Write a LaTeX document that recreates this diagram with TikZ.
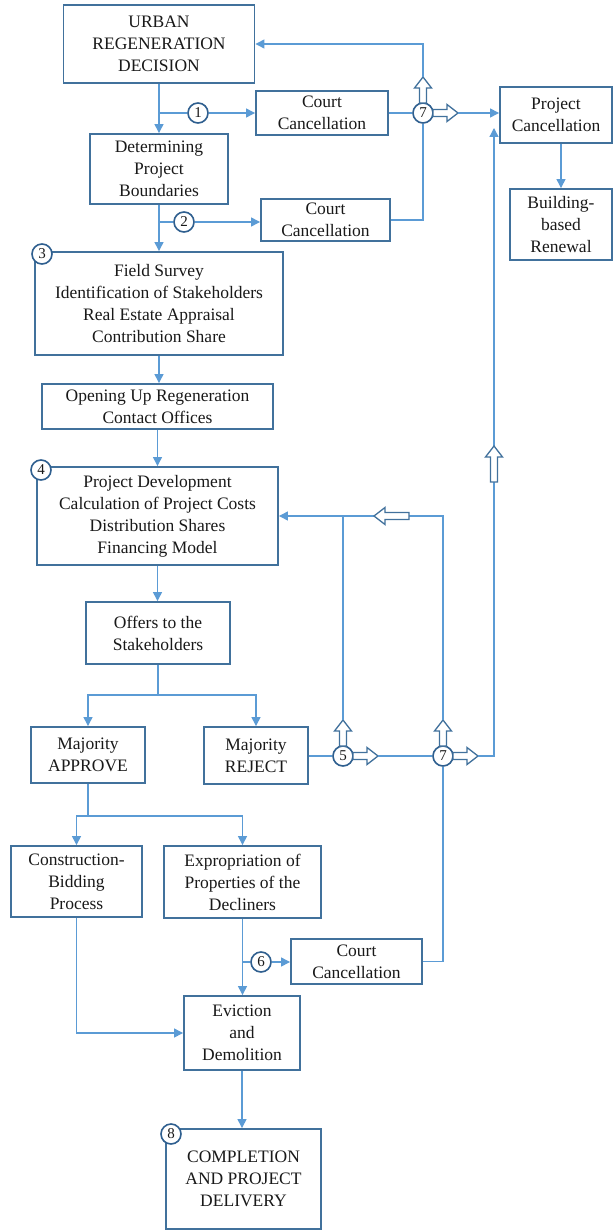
\documentclass[tikz,border=0pt]{standalone}
\usepackage{fontspec}
\setmainfont{Liberation Serif}
\newfontfamily\diagfont{Liberation Serif}
\usetikzlibrary{arrows.meta}
\definecolor{boxblue}{HTML}{41719C}
\definecolor{ringblue}{HTML}{2F5F8F}
\definecolor{lineblue}{HTML}{5B9BD5}
% outlined block arrow: name of tip, base x, base y, direction, length
\newcommand{\hollowarrow}[5]{%
  \begin{scope}[shift={(#2,#3)}, rotate=#4]
    \draw[harrow] (0,-3.5) -- ({#5-11},-3.5) -- ({#5-11},-8.5) -- (#5,0)
      -- ({#5-11},8.5) -- ({#5-11},3.5) -- (0,3.5) -- cycle;
    \coordinate (#1) at (#5,0);
  \end{scope}}
\begin{document}
\begin{tikzpicture}[x=1pt,y=-1pt,
  box/.style={draw=boxblue, line width=1.9pt, align=center, inner sep=0pt,
    font=\diagfont\fontsize{17.5}{22}\selectfont, text=black!90},
  conn/.style={draw=lineblue, line width=1.3pt},
  tip/.style={conn, -{Triangle[length=9pt,width=9pt]}},
  num/.style={circle, draw=ringblue, fill=white, line width=1.6pt,
    minimum size=20pt, inner sep=0pt, font=\diagfont\fontsize{15}{15}\selectfont, text=black!90},
  harrow/.style={draw=boxblue, fill=white, line width=1.3pt, line join=miter},
]
\useasboundingbox[fill=white] (0,0) rectangle (614,1230);

% ---------- boxes ----------
\node[box, minimum width=191pt, minimum height=78pt] (A) at (159,44) {URBAN\\REGENERATION\\DECISION};
\node[box, minimum width=132pt, minimum height=44pt] (CC1) at (322,113) {Court\\Cancellation};
\node[box, minimum width=138pt, minimum height=70pt] (B) at (159,169) {Determining\\Project\\Boundaries};
\node[box, minimum width=129pt, minimum height=42pt] (CC2) at (325.5,220) {Court\\Cancellation};
\node[box, minimum width=112pt, minimum height=56pt] (PC) at (556,115) {Project\\Cancellation};
\node[box, minimum width=102pt, minimum height=71pt] (BBR) at (561,224.5) {Building-\\based\\Renewal};
\node[box, minimum width=248pt, minimum height=103pt] (F3) at (159,303.5) {Field Survey\\Identification of Stakeholders\\Real Estate Appraisal\\Contribution Share};
\node[box, minimum width=231pt, minimum height=45pt] (OP) at (157.5,406.5) {Opening Up Regeneration\\Contact Offices};
\node[box, minimum width=241pt, minimum height=98pt] (D4) at (157.5,516) {Project Development\\Calculation of Project Costs\\Distribution Shares\\Financing Model};
\node[box, minimum width=144pt, minimum height=62pt] (OF) at (158,633) {Offers to the\\Stakeholders};
\node[box, minimum width=114pt, minimum height=56pt] (MA) at (88,755) {Majority\\APPROVE};
\node[box, minimum width=104pt, minimum height=57pt] (MR) at (256,755.5) {Majority\\REJECT};
\node[box, minimum width=131pt, minimum height=71pt] (CB) at (76.5,881.5) {Construction-\\Bidding\\Process};
\node[box, minimum width=157pt, minimum height=72pt] (EX) at (242.5,882) {Expropriation of\\Properties of the\\Decliners};
\node[box, minimum width=131pt, minimum height=45pt] (CC3) at (356.5,961.5) {Court\\Cancellation};
\node[box, minimum width=116pt, minimum height=74pt] (EV) at (242,1033) {Eviction\\and\\Demolition};
\node[box, minimum width=155pt, minimum height=100pt] (CP) at (243.5,1179) {COMPLETION\\AND PROJECT\\DELIVERY};

% ---------- junction points ----------
\coordinate (j1) at (159,113);
\coordinate (j2) at (159,222);
\coordinate (s1) at (158,695);
\coordinate (s2) at (88,816);
\coordinate (j6) at (242.5,962);
\coordinate (fbr) at (443,516);
\coordinate (rc) at (494,756);
\coordinate (rtop) at (494,128);
\coordinate (fbm) at (343,516);

% ---------- main flow ----------
\draw[tip] (A.south) -- (A.south |- B.north);
\draw[tip] (B.south) -- (B.south |- F3.north);
\draw[tip] (F3.south) -- (F3.south |- OP.north);
\draw[tip] (OP.south) -- (OP.south |- D4.north);
\draw[tip] (D4.south) -- (D4.south |- OF.north);
\draw[tip] (OF.south) -- (s1) -| (MA.north);
\draw[tip] (s1) -| (MR.north);
\draw[tip] (MA.south) -- (s2) -| (CB.north);
\draw[tip] (s2) -| (EX.north);
\draw[tip] (EX.south) -- (EX.south |- EV.north);
\draw[tip] (CB.south) |- (EV.west);
\draw[tip] (EV.south) -- (EV.south |- CP.north);
\draw[tip] (BBR.north |- PC.south) -- (BBR.north);

% ---------- numbered markers ----------
\node[num] (n1) at (198,113) {1};
\node[num] (n2) at (184,222) {2};
\node[num] (n7a) at (423,113) {7};
\node[num] (n5) at (343,756) {5};
\node[num] (n7b) at (443,756) {7};
\node[num] (n6) at (261,962) {6};

% ---------- court cancellation branches ----------
\draw[conn] (j1) -- (n1);
\draw[tip] (n1) -- (CC1.west);
\draw[conn] (j2) -- (n2);
\draw[tip] (n2) -- (n2 -| CC2.west);
\draw[conn] (j6) -- (n6);
\draw[tip] (n6) -- (n6 -| CC3.west);

% ---------- upper decision point 7 ----------
\draw[conn] (CC1.east) -- (n7a);
\draw[conn] (CC2.east) -| (n7a.south);
\hollowarrow{h7u}{423}{103}{90}{26}
\hollowarrow{h7r}{433}{113}{0}{25}
\draw[tip] (h7u) |- (A.east);
\draw[tip] (h7r) -- (h7r -| PC.west);

% ---------- lower decision points 5 and 7 ----------
\draw[conn] (MR.east |- n5) -- (n5);
\hollowarrow{h5u}{343}{746}{90}{26}
\hollowarrow{h5r}{353}{756}{0}{25}
\draw[conn] (h5r) -- (n7b);
\hollowarrow{h7bu}{443}{746}{90}{26}
\hollowarrow{h7br}{453}{756}{0}{25}
\draw[conn] (n7b.south) |- (CC3.east);

% feedback to project development
\draw[conn] (h5u) -- (fbm);
\draw[tip] (h7bu) -- (fbr) -- (fbr -| D4.east);
\hollowarrow{hfb}{409}{516}{180}{35}

% route to project cancellation
\draw[tip] (h7br) -- (rc) -- (rtop);
\hollowarrow{hup}{494}{482}{90}{36}

% ---------- corner markers ----------
\node[num] (n3) at (42,254) {3};
\node[num] (n4) at (41,470) {4};
\node[num] (n8) at (171,1134) {8};
\end{tikzpicture}
\end{document}
